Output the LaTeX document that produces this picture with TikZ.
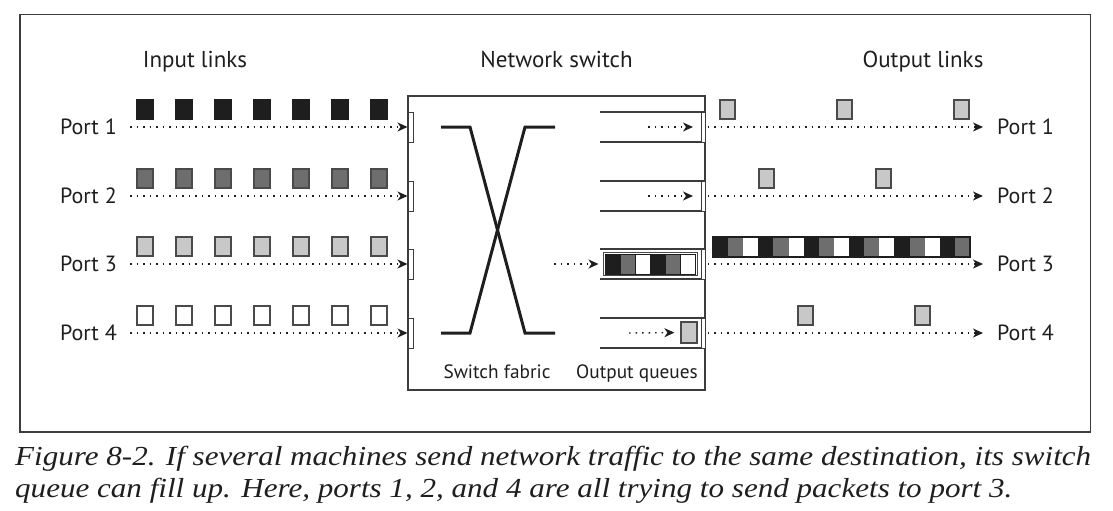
\documentclass[tikz,border=0pt]{standalone}
\usepackage{fontspec}
\setmainfont{Liberation Serif}
\setsansfont{PT Sans}
\newfontfamily\captionfont[FakeStretch=1.13]{Liberation Serif}
\usetikzlibrary{arrows.meta,positioning}
\definecolor{ink}{HTML}{1E1E1E}
\definecolor{frameline}{HTML}{3C3C3C}
\definecolor{pktdark}{HTML}{6E6E6E}
\definecolor{pktlight}{HTML}{C8C8C8}
\definecolor{pktedge}{HTML}{4A4A4A}
\tikzset{
  >={Stealth[length=10pt,width=9pt,inset=3pt]},
  every node/.style={font=\sffamily,text=ink},
  heading/.style={font=\sffamily\fontsize{23}{26}\selectfont,anchor=base,inner sep=0pt},
  portlabel/.style={font=\sffamily\fontsize{22}{24}\selectfont,inner sep=0pt},
  sublabel/.style={font=\sffamily\fontsize{19.3}{22}\selectfont,anchor=base,inner sep=0pt},
  portbox/.style={draw=frameline,line width=1pt,fill=white,minimum width=5pt,minimum height=30pt,inner sep=0pt},
  switchbox/.style={draw=frameline,line width=1.5pt,inner sep=0pt},
  link/.style={->,line width=1.4pt,dash pattern=on 1.5pt off 5pt,draw=ink},
  fabric/.style={line width=3pt,draw=ink,miter limit=20},
  queueline/.style={line width=1.3pt,draw=frameline},
  packet/.style={line width=1.2pt,draw=pktedge},
  caption/.style={font=\captionfont\itshape\fontsize{27.5}{32}\selectfont,align=left,inner sep=0pt}
}
\begin{document}
\begin{tikzpicture}[x=1pt,y=-1pt]
  \useasboundingbox (0,0) rectangle (1113,511);
  \draw[frameline,line width=1.5pt] (20,14.5) rectangle (1090.5,432);

  % headings
  \node[heading] (inhead) at (195,67) {Input links};
  \node[heading] (swhead) at (556.5,67) {Network switch};
  \node[heading] (outhead) at (923,67) {Output links};

  % the switch
  \node[switchbox,minimum width=297pt,minimum height=294pt] (switch) at (556.5,243) {};
  \draw[fabric] (441,127) -- (470,127) -- (525,333) -- (555,333);
  \draw[fabric] (441,333) -- (470,333) -- (525,127) -- (555,127);
  \node[sublabel] (fabriclabel) at (497,378) {Switch fabric};
  \node[sublabel] (queuelabel) at (637,378) {Output queues};

  % ports, links and queues
  \foreach \r/\y in {1/127,2/196,3/264,4/333}{
    \node[portlabel,anchor=east] (in\r) at (117,\y) {Port \r};
    \node[portbox] (inport\r) at (410.5,\y) {};
    \draw[link,shorten <=13pt] (in\r) -- (inport\r);
    \draw[queueline] (600,\y-15) -- (705,\y-15);
    \draw[queueline] (600,\y+15) -- (705,\y+15);
    \node[portbox,minimum width=4pt] (outport\r) at (703.5,\y) {};
    \node[portlabel,anchor=west] (out\r) at (997,\y) {Port \r};
    \draw[link,shorten <=1.5pt,shorten >=14pt] (outport\r) -- (out\r);
  }

  % input packets
  \foreach \y/\c/\e in {127/ink/ink,196/pktdark/pktedge,264/pktlight/pktedge,333/white/pktedge}
    \foreach \k in {0,...,6}
      \draw[packet,fill=\c,draw=\e] ({137+39*\k},\y-27) rectangle ++(16,19);

  % queue contents
  \coordinate (qa1) at (648,127);
  \coordinate (qa2) at (648,196);
  \draw[link,shorten >=8pt] (qa1) -- (outport1);
  \draw[link,shorten >=8pt] (qa2) -- (outport2);
  \node[draw=pktedge,line width=1pt,minimum width=94pt,minimum height=23pt,inner sep=0pt] (q3) at (650,264) {};
  \foreach \k/\c in {0/ink,1/pktdark,2/white,3/ink,4/pktdark,5/white}
    \draw[packet,draw=ink,line width=0.8pt,fill=\c] ({605+15*\k},254) rectangle ++(15,20);
  \coordinate (qa3) at (554,264);
  \draw[link,shorten >=4pt] (qa3) -- (q3);
  \node[packet,fill=pktlight,minimum width=16pt,minimum height=21pt,inner sep=0pt] (q4) at (689,332.5) {};
  \coordinate (qa4) at (629,333);
  \draw[link,shorten >=6pt] (qa4) -- (q4);

  % output packets
  \foreach \x in {720,837,954}
    \draw[packet,fill=pktlight] (\x,100) rectangle ++(15,19);
  \foreach \x in {759,876}
    \draw[packet,fill=pktlight] (\x,169) rectangle ++(15,19);
  \foreach \x in {798,915}
    \draw[packet,fill=pktlight] (\x,306) rectangle ++(15,19);
  \foreach \k/\c in {0/ink,1/pktdark,2/white,3/ink,4/pktdark,5/white,6/ink,7/pktdark,8/white,
                     9/ink,10/pktdark,11/white,12/ink,13/pktdark,14/white,15/ink,16/pktdark}
    \fill[\c] ({713+15.12*\k},237) rectangle ++(15.12,20);
  \draw[packet,draw=ink] (713,237) rectangle (970,257);

  % caption
  \node[caption,anchor=north west] (caption) at (15,446) {Figure 8-2. If several machines send network traffic to the same destination, its switch\\queue can fill up. Here, ports 1, 2, and 4 are all trying to send packets to port 3.};
\end{tikzpicture}
\end{document}
